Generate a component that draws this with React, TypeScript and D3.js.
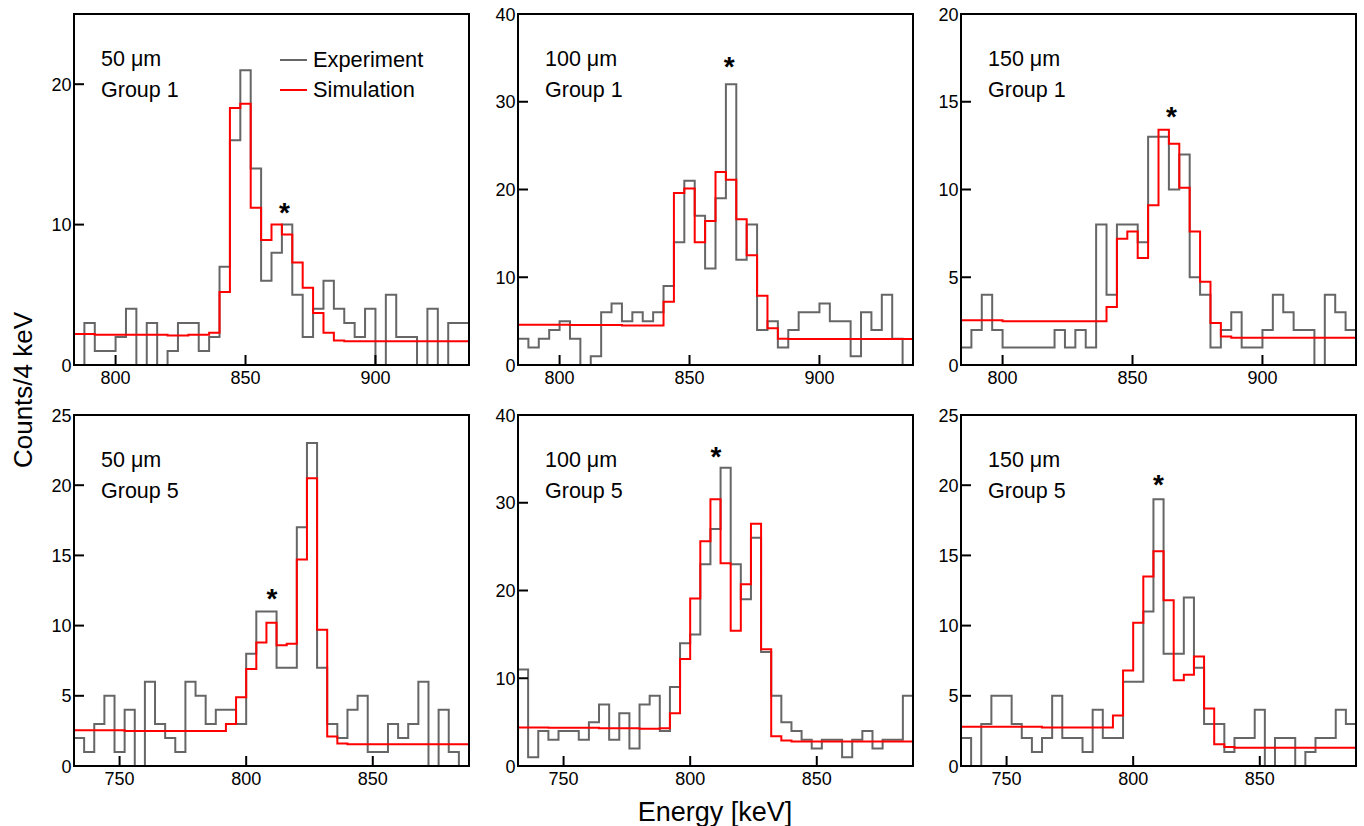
import * as d3 from "d3";

// bin edges (keV), 4 keV bins
const binWidth = 4;
const topStart = 784;
const bottomStart = 732;
const topDomain = [784, 936];
const bottomDomain = [732, 888];
const topXTicks = [800, 850, 900];
const bottomXTicks = [750, 800, 850];

// Group 1 (top row)
const exp50g1 = [0, 3, 1, 1, 2, 4, 0, 3, 0, 1, 3, 3, 1, 2, 7, 16, 21, 14, 6, 8, 10, 5, 2, 4, 6, 4, 3, 2, 4, 0, 5, 2, 2, 0, 4, 0, 3, 3];
const sim50g1 = [2.2, 2.2, 2.15, 2.15, 2.15, 2.15, 2.15, 2.15, 2.15, 2.1, 2.1, 2.15, 2.15, 2.3, 5.2, 18.3, 18.6, 11.2, 8.9, 10.0, 9.3, 7.3, 5.5, 3.7, 2.3, 1.75, 1.7, 1.7, 1.7, 1.7, 1.7, 1.7, 1.7, 1.7, 1.7, 1.7, 1.7, 1.7];
const exp100g1 = [3, 2, 3, 4, 5, 3, 0, 1, 6, 7, 5, 6, 5, 6, 9, 14, 21, 17, 11, 19, 32, 12, 16, 4, 5, 2, 4, 6, 6, 7, 5, 5, 1, 6, 4, 8, 3, 0];
const sim100g1 = [4.6, 4.6, 4.6, 4.6, 4.6, 4.55, 4.55, 4.55, 4.55, 4.55, 4.5, 4.5, 4.5, 4.5, 7.2, 19.6, 20.1, 14.0, 16.4, 22.0, 21.1, 16.6, 12.5, 7.9, 4.2, 3.0, 2.95, 2.95, 2.95, 2.95, 2.95, 2.95, 2.95, 2.95, 2.95, 2.95, 2.95, 2.95];
const exp150g1 = [1, 2, 4, 2, 1, 1, 1, 1, 1, 2, 1, 2, 1, 8, 4, 8, 8, 7, 13, 13, 10, 12, 5, 4, 1, 2, 3, 1, 1, 2, 4, 3, 2, 2, 0, 4, 3, 2];
const sim150g1 = [2.55, 2.55, 2.55, 2.55, 2.5, 2.5, 2.5, 2.5, 2.5, 2.5, 2.5, 2.5, 2.5, 2.5, 3.3, 7.2, 7.6, 6.1, 9.1, 13.4, 12.6, 10.1, 7.6, 4.75, 2.4, 1.62, 1.55, 1.55, 1.55, 1.55, 1.55, 1.55, 1.55, 1.55, 1.55, 1.55, 1.55, 1.55];

// Group 5 (bottom row)
const exp50g5 = [2, 1, 3, 5, 1, 4, 0, 6, 3, 2, 1, 6, 5, 3, 4, 4, 3, 8, 11, 11, 7, 7, 17, 23, 7, 3, 2, 4, 5, 1, 1, 3, 2, 3, 6, 0, 4, 1, 0];
const sim50g5 = [2.55, 2.55, 2.55, 2.55, 2.55, 2.5, 2.5, 2.5, 2.5, 2.5, 2.5, 2.5, 2.5, 2.5, 2.5, 3.0, 4.9, 6.9, 8.8, 10.2, 8.6, 8.7, 14.7, 20.5, 9.7, 2.1, 1.6, 1.55, 1.55, 1.55, 1.55, 1.55, 1.55, 1.55, 1.55, 1.55, 1.55, 1.55, 1.55];
const exp100g5 = [11, 1, 4, 3, 4, 4, 3, 5, 7, 3, 6, 2, 7, 8, 4, 9, 14, 15, 23, 27, 34, 23, 19, 26, 13, 8, 5, 4, 3, 2, 3, 3, 1, 3, 4, 2, 3, 3, 8];
const sim100g5 = [4.4, 4.4, 4.4, 4.35, 4.35, 4.35, 4.35, 4.35, 4.3, 4.3, 4.3, 4.3, 4.25, 4.25, 4.3, 6.0, 12.2, 19.1, 25.6, 30.4, 23.1, 15.4, 20.7, 27.6, 13.3, 3.4, 2.9, 2.8, 2.8, 2.8, 2.8, 2.8, 2.8, 2.8, 2.8, 2.8, 2.8, 2.8, 2.8];
const exp150g5 = [2, 0, 3, 5, 5, 3, 2, 1, 2, 5, 2, 2, 1, 4, 2, 2, 6, 6, 11, 19, 8, 8, 12, 7, 3, 3, 1, 2, 2, 4, 0, 2, 2, 0, 1, 2, 2, 4, 3];
const sim150g5 = [2.8, 2.8, 2.8, 2.8, 2.8, 2.8, 2.8, 2.8, 2.75, 2.75, 2.75, 2.75, 2.75, 2.75, 2.75, 3.6, 6.8, 10.2, 13.5, 15.3, 11.8, 6.1, 6.5, 7.8, 4.1, 1.55, 1.35, 1.3, 1.3, 1.3, 1.3, 1.3, 1.3, 1.3, 1.3, 1.3, 1.3, 1.3, 1.3];

const thicknesses = ["50 \u03bcm", "100 \u03bcm", "150 \u03bcm"];
const groups = ["Group 1", "Group 5"];
const yMaxes = [[25, 40, 20], [25, 40, 25]];
const yTicks = [
  [[0, 10, 20], [0, 10, 20, 30, 40], [0, 5, 10, 15, 20]],
  [[0, 5, 10, 15, 20, 25], [0, 10, 20, 30, 40], [0, 5, 10, 15, 20, 25]],
];
// asterisk markers [energy, counts]
const stars = [
  [[865, 11.3], [865.3, 34.7], [865, 14.5]],
  [[810.2, 12.4], [810.2, 36], [810, 20.5]],
];
const expData = [[exp50g1, exp100g1, exp150g1], [exp50g5, exp100g5, exp150g5]];
const simData = [[sim50g1, sim100g1, sim150g1], [sim50g5, sim100g5, sim150g5]];

const W = 1364;
const H = 826;
const colLeft = [74, 518, 961];
const rowTop = [14, 415];
const pw = 395;
const ph = 351;
const font = "'Liberation Sans', Arial, Helvetica, sans-serif";
const grey = "#666666";
const red = "#ff0000";

function Panel({ row, col }: { row: number; col: number }) {
  const x0 = colLeft[col];
  const y0 = rowTop[row];
  const start = row === 0 ? topStart : bottomStart;
  const x = d3.scaleLinear().domain(row === 0 ? topDomain : bottomDomain).range([x0, x0 + pw]);
  const y = d3.scaleLinear().domain([0, yMaxes[row][col]]).range([y0 + ph, y0]);
  const xt = row === 0 ? topXTicks : bottomXTicks;

  const line = d3
    .line<[number, number]>()
    .x((d) => x(d[0]))
    .y((d) => y(d[1]))
    .curve(d3.curveStepAfter);

  const toPts = (vals: number[]) => {
    const pts: [number, number][] = vals.map((v, i) => [start + i * binWidth, v]);
    pts.push([start + vals.length * binWidth, vals[vals.length - 1]]);
    return pts;
  };

  const [sx, sy] = stars[row][col];
  const starSize = 28;

  return (
    <g>
      <path d={line(toPts(expData[row][col])) || ""} fill="none" stroke={grey} strokeWidth={2} />
      <path d={line(toPts(simData[row][col])) || ""} fill="none" stroke={red} strokeWidth={2} />
      <text x={x(sx)} y={y(sy) + starSize * 0.57} textAnchor="middle" fontSize={starSize} fontWeight="bold" fontFamily={font} fill="#000">
        *
      </text>
      <text x={x0 + 27} y={y0 + 52} fontSize={21.5} fontFamily={font} fill="#000">
        {thicknesses[col]}
      </text>
      <text x={x0 + 27} y={y0 + 82.5} fontSize={21.5} fontFamily={font} fill="#000">
        {groups[row]}
      </text>
      {yTicks[row][col].map((t) => (
        <g key={"y" + t}>
          <line x1={x0} x2={x0 + 10} y1={y(t)} y2={y(t)} stroke="#000" strokeWidth={2} />
          <text x={x0 - 2.5} y={y(t) + 6.5} textAnchor="end" fontSize={18} fontFamily={font} fill="#000">
            {t}
          </text>
        </g>
      ))}
      {xt.map((t) => (
        <g key={"x" + t}>
          <line x1={x(t)} x2={x(t)} y1={y0 + ph} y2={y0 + ph - 10} stroke="#000" strokeWidth={2} />
          <text x={x(t)} y={y0 + ph + 18.5} textAnchor="middle" fontSize={18} fontFamily={font} fill="#000">
            {t}
          </text>
        </g>
      ))}
      <rect x={x0} y={y0} width={pw} height={ph} fill="none" stroke="#000" strokeWidth={2} />
    </g>
  );
}

export default function App() {
  return (
    <svg width={W} height={H} style={{ position: "absolute", left: 0, top: 0, background: "#fff" }}>
      <rect width={W} height={H} fill="#fff" />
      {[0, 1].map((r) => [0, 1, 2].map((c) => <Panel key={r + "-" + c} row={r} col={c} />))}
      {/* legend */}
      <line x1={280} x2={307} y1={60} y2={60} stroke={grey} strokeWidth={2} />
      <text x={313} y={66.5} fontSize={21.8} fontFamily={font} fill="#000">Experiment</text>
      <line x1={280} x2={307} y1={90} y2={90} stroke={red} strokeWidth={2} />
      <text x={313} y={96.5} fontSize={21.8} fontFamily={font} fill="#000">Simulation</text>
      <text transform="translate(32,390) rotate(-90)" textAnchor="middle" fontSize={26} fontFamily={font} fill="#000">
        Counts/4 keV
      </text>
      <text x={715} y={821} textAnchor="middle" fontSize={27} fontFamily={font} fill="#000">
        Energy [keV]
      </text>
    </svg>
  );
}
